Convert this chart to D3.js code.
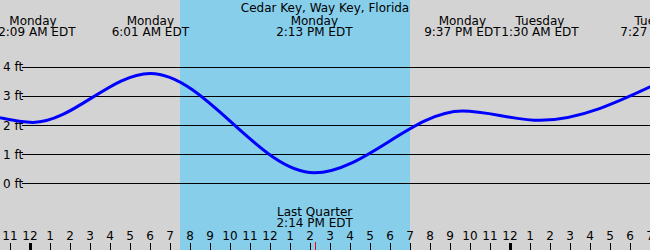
<!DOCTYPE html>
<html>
<head>
<meta charset="utf-8">
<script src="https://cdn.jsdelivr.net/npm/d3@7"></script>
<style>
  body { margin: 0; background: #fff; }
  svg text { font-family: "DejaVu Sans", sans-serif; font-size: 12px; fill: #000; }
</style>
</head>
<body>
<script>
// hours are counted from Monday 00:00 EDT
var title = "Cedar Key, Way Key, Florida";

// high / low tide events
var eventDays = ["Monday", "Monday", "Monday", "Monday", "Tuesday", "Tuesday"];
var eventTimes = ["12:09 AM EDT", "6:01 AM EDT", "2:13 PM EDT", "9:37 PM EDT", "1:30 AM EDT", "7:27 AM EDT"];
var eventHours = [0.15, 6.017, 14.217, 21.617, 25.5, 31.45];
var eventFeet = [2.09, 3.77, 0.36, 2.48, 2.16, 3.45];

// level read at the left edge of the chart
var edgeHours = [-1.5];
var edgeFeet = [2.25];

// daylight band
var sunrise = 7.5, sunset = 19.0;

// moon phase
var moonLabel = ["Last Quarter", "2:14 PM EDT"];
var moonHour = 14.233;

// axes
var levelTicks = [0, 1, 2, 3, 4];
var hourTicks = d3.range(-1, 32);

var width = 650,
    height = 250;

var x = d3.scaleLinear().domain([-1.5, 31]).range([0, width]);
var y = d3.scaleLinear().domain([0, 4]).range([183.3, 66.7]);

var svg = d3.select("body").append("svg")
    .attr("width", width)
    .attr("height", height);

// night background and daylight band
svg.append("rect")
    .attr("width", width)
    .attr("height", height)
    .attr("fill", "#d3d3d3");
svg.append("rect")
    .attr("x", x(sunrise))
    .attr("width", x(sunset) - x(sunrise))
    .attr("height", height)
    .attr("fill", "#87ceeb");

// level lines
var grid = svg.append("g").selectAll("g")
    .data(levelTicks)
    .enter().append("g");
grid.append("line")
    .attr("x1", 22)
    .attr("x2", width)
    .attr("y1", function(d) { return Math.round(y(d)) + 0.5; })
    .attr("y2", function(d) { return Math.round(y(d)) + 0.5; })
    .attr("stroke", "#000")
    .attr("stroke-width", 1);
grid.append("text")
    .attr("x", 3)
    .attr("y", function(d) { return y(d) + 4.5; })
    .text(function(d) { return d + " ft"; });

// tide curve
var points = edgeHours.map(function(h, i) { return [h, edgeFeet[i]]; })
    .concat(eventHours.map(function(h, i) { return [h, eventFeet[i]]; }));
var line = d3.line()
    .x(function(d) { return x(d[0]); })
    .y(function(d) { return y(d[1]); })
    .curve(d3.curveMonotoneX);
svg.append("path")
    .datum(points)
    .attr("d", line)
    .attr("fill", "none")
    .attr("stroke", "#0000ff")
    .attr("stroke-width", 3);

// title and event labels
svg.append("text")
    .attr("x", width / 2)
    .attr("y", 12)
    .attr("text-anchor", "middle")
    .text(title);
var ev = svg.append("g").selectAll("g")
    .data(eventHours)
    .enter().append("g");
ev.append("text")
    .attr("x", function(d) { return x(d); })
    .attr("y", 25)
    .attr("text-anchor", "middle")
    .text(function(d, i) { return eventDays[i]; });
ev.append("text")
    .attr("x", function(d) { return x(d); })
    .attr("y", 36)
    .attr("text-anchor", "middle")
    .text(function(d, i) { return eventTimes[i]; });

// moon label
svg.append("g").selectAll("text")
    .data(moonLabel)
    .enter().append("text")
    .attr("x", x(moonHour))
    .attr("y", function(d, i) { return 216 + i * 11; })
    .attr("text-anchor", "middle")
    .text(function(d) { return d; });

// hour axis
var hx = svg.append("g").selectAll("g")
    .data(hourTicks)
    .enter().append("g");
hx.append("text")
    .attr("x", function(d) { return x(d); })
    .attr("y", 240)
    .attr("text-anchor", "middle")
    .text(function(d) { var h = ((d % 12) + 12) % 12; return h === 0 ? 12 : h; });
hx.append("line")
    .attr("x1", function(d) { return Math.round(x(d)) + 0.5; })
    .attr("x2", function(d) { return Math.round(x(d)) + 0.5; })
    .attr("y1", 243)
    .attr("y2", height)
    .attr("stroke", "#000")
    .attr("stroke-width", function(d) { return d % 24 === 0 ? 3 : 1; });

// moon tick
svg.append("line")
    .attr("x1", Math.round(x(moonHour)) + 0.5)
    .attr("x2", Math.round(x(moonHour)) + 0.5)
    .attr("y1", 242)
    .attr("y2", height)
    .attr("stroke", "#ff0000")
    .attr("stroke-width", 1);
</script>
</body>
</html>
